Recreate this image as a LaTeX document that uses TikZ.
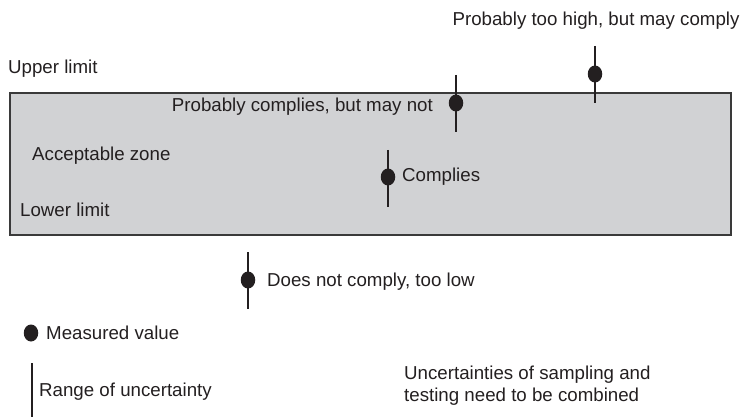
\documentclass[tikz,border=0pt]{standalone}
\usepackage{fontspec}
\setmainfont{Liberation Sans}
\usetikzlibrary{shapes.geometric}
\definecolor{zonefill}{HTML}{D1D2D4}
\definecolor{ink}{HTML}{231F20}
\definecolor{edge}{HTML}{3A3A3A}
\tikzset{
  lbl/.style={anchor=base west,inner sep=0pt,text=ink,font=\fontsize{18.7}{22}\selectfont},
  dotmark/.style={ellipse,fill=ink,draw=none,minimum width=14.5pt,minimum height=17pt,inner sep=0pt},
  ebar/.style={draw=ink,line width=2.5pt},
}
\begin{document}
\begin{tikzpicture}[x=1pt,y=-1pt]
\useasboundingbox (0,0) rectangle (745,417);
% acceptable zone
\node[draw=edge,line width=2pt,fill=zonefill,inner sep=0pt,minimum width=721pt,minimum height=142pt,anchor=north west] (zone) at (9,92) {};
% labels
\node[lbl,anchor=base] (high) at (596,26) {Probably too high, but may comply};
\node[lbl] (upper) at (8,74) {Upper limit};
\node[lbl,anchor=base east] (maynot) at (433,112) {Probably complies, but may not};
\node[lbl] (accept) at (32,161) {Acceptable zone};
\node[lbl] (complies) at (402,182) {Complies};
\node[lbl] (lower) at (20,217) {Lower limit};
\node[lbl] (toolow) at (267,286) {Does not comply, too low};
\node[lbl] (measured) at (46,339) {Measured value};
\node[lbl] (range) at (39,396) {Range of uncertainty};
\node[lbl,align=left,anchor=north west] (combined) at (404,366) {Uncertainties of sampling and\\testing need to be combined};
% error bars
\coordinate (t1) at (595,46);  \coordinate (b1) at (595,103);
\coordinate (t2) at (456,75);  \coordinate (b2) at (456,132);
\coordinate (t3) at (388,150); \coordinate (b3) at (388,207);
\coordinate (t4) at (248,252); \coordinate (b4) at (248,309);
\coordinate (t5) at (32,363);  \coordinate (b5) at (32,417);
\draw[ebar] (t1) -- (b1);
\draw[ebar] (t2) -- (b2);
\draw[ebar] (t3) -- (b3);
\draw[ebar] (t4) -- (b4);
\draw[ebar] (t5) -- (b5);
\node[dotmark] (d1) at (595,74) {};
\node[dotmark] (d2) at (456,103) {};
\node[dotmark] (d3) at (388,177) {};
\node[dotmark] (d4) at (248,280) {};
\node[dotmark] (d5) at (31,333) {};
\end{tikzpicture}
\end{document}
